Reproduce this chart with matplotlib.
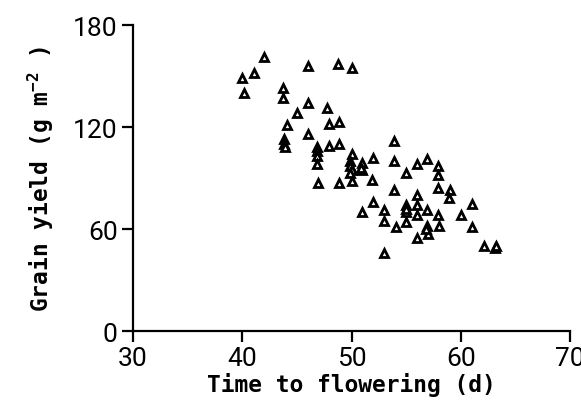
import matplotlib
matplotlib.use("Agg")
import matplotlib.pyplot as plt

# Time to flowering (d) and grain yield (g m-2)
days = [40.0, 40.2, 41.1, 42.0, 46.0, 48.8, 50.0, 43.7, 43.7, 46.0,
        45.0, 44.1, 47.8, 47.9, 48.9, 46.0, 43.8, 43.8, 43.9, 47.9,
        48.9, 46.8, 46.8, 46.8, 46.8, 46.9, 50.0, 49.9, 49.9, 50.0,
        50.0, 48.9, 51.0, 51.0, 52.0, 51.9, 53.9, 53.9, 55.0, 56.0,
        56.9, 57.9, 57.9, 57.9, 59.0, 58.9, 53.9, 56.0, 56.0, 56.0,
        51.0, 52.0, 53.0, 53.0, 55.0, 55.0, 55.0, 54.1, 53.0, 56.9,
        57.9, 58.0, 56.9, 57.0, 56.0, 60.0, 61.0, 61.0, 62.1, 63.1,
        63.2, 55.0, 56.8, 50.9, 49.9]
grain = [149, 140, 152, 161, 156, 157, 155, 143, 137, 134,
         128, 121, 131, 122, 123, 116, 113, 110, 108, 109,
         110, 108, 106, 103, 98, 87, 104, 100, 97, 95,
         88, 87, 99, 95, 102, 89, 112, 100, 93, 98,
         101, 97, 92, 84, 83, 78, 83, 80, 74, 68,
         70, 76, 71, 65, 74, 70, 64, 61, 46, 71,
         68, 62, 62, 57, 55, 68, 75, 61, 50, 49,
         50, 72, 60, 96, 93]

plt.rcParams['mathtext.default'] = 'regular'

fig = plt.figure(figsize=(5.81, 4.14), dpi=100)
ax = fig.add_axes([0.229, 0.198, 0.752, 0.739])

ax.plot(days, grain, linestyle='none', marker='^', markersize=5.5,
        markerfacecolor='white', markeredgecolor='black', markeredgewidth=2.0)

ax.set_xlim(30, 70)
ax.set_ylim(0, 180)
ax.set_xticks([30, 40, 50, 60, 70])
ax.set_yticks([0, 60, 120, 180])

for s in ['top', 'right']:
    ax.spines[s].set_visible(False)
for s in ['left', 'bottom']:
    ax.spines[s].set_linewidth(1.6)

ax.tick_params(direction='out', length=8, width=1.6, pad=3)
for lab in ax.get_xticklabels() + ax.get_yticklabels():
    lab.set_family('Roboto')
    lab.set_fontsize(19)

ax.set_xlabel('Time to flowering (d)', family='DejaVu Sans Mono', fontsize=16.5,
              weight='bold', labelpad=1)
ax.set_ylabel('Grain yield (g m$^{-2}$ )', family='DejaVu Sans Mono', fontsize=16.5,
              weight='bold', labelpad=12)

fig.savefig('out.png', dpi=100)
